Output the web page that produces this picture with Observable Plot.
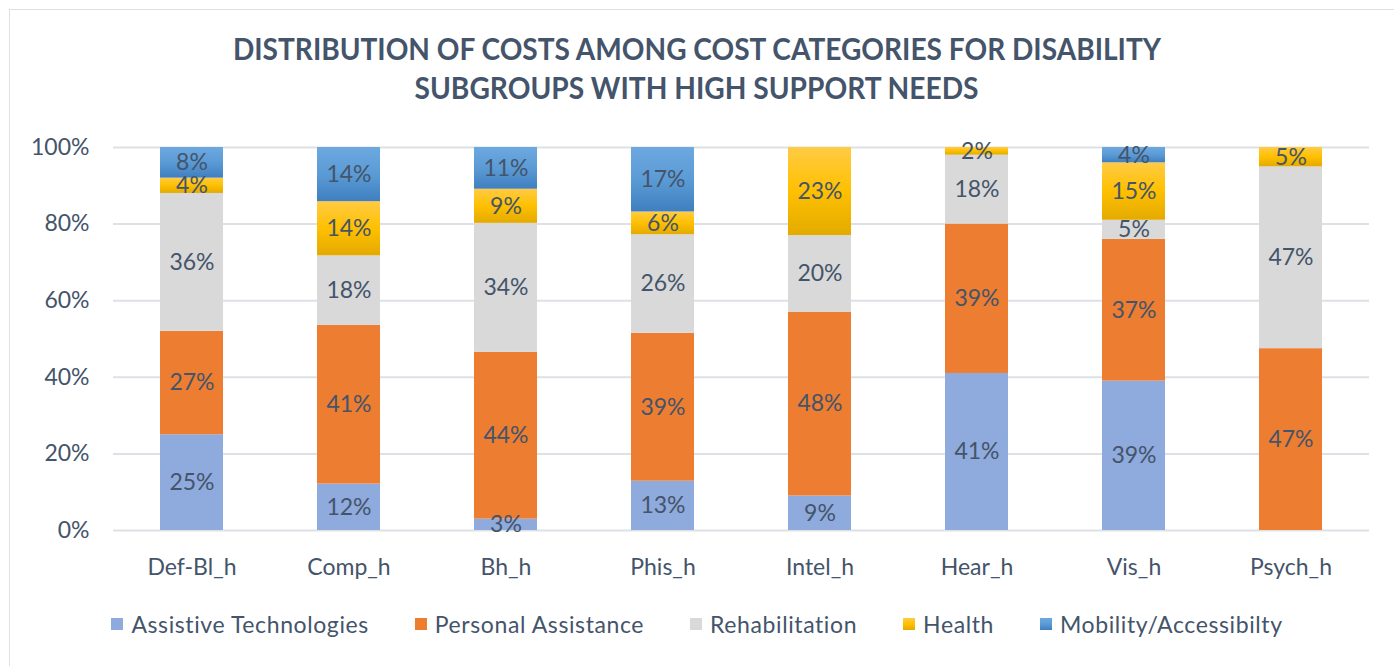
<!DOCTYPE html>
<html>
<head>
<meta charset="utf-8">
<script src="https://cdn.jsdelivr.net/npm/d3@7"></script>
<script src="https://cdn.jsdelivr.net/npm/@observablehq/plot@0.6"></script>
<style>
  html, body { margin: 0; padding: 0; background: #fff; }
  body { width: 1394px; height: 666px; position: relative; overflow: hidden; font-family: Lato, "Open Sans", sans-serif; color: #44546A; }
  #frame { position: absolute; left: 9px; top: 9px; width: 1400px; height: 700px; border: 1.5px solid #dde1e6; box-sizing: border-box; }
  #title { position: absolute; left: 0; width: 1394px; top: 29px; text-align: center; font-weight: 700; font-size: 30px; line-height: 39px; }
  #title span { display: inline-block; transform-origin: center; white-space: nowrap; }
  #chart { position: absolute; left: 0; top: 110px; }
  #legend { position: absolute; left: 0; width: 1394px; top: 610px; display: flex; justify-content: center; font-size: 23px; letter-spacing: 0.6px; }
  .item { display: flex; align-items: center; margin: 0 23px; }
  .sw { width: 12px; height: 12px; margin-right: 8px; }
</style>
</head>
<body>
<div id="frame"></div>
<div id="title"><span id="t1"></span><br><span id="t2"></span></div>
<div id="chart"></div>
<div id="legend"></div>
<script>
const titleLines = ["DISTRIBUTION OF COSTS AMONG COST CATEGORIES FOR DISABILITY", "SUBGROUPS WITH HIGH SUPPORT NEEDS"];
const categories = ["Def-Bl_h", "Comp_h", "Bh_h", "Phis_h", "Intel_h", "Hear_h", "Vis_h", "Psych_h"];
const seriesNames = ["Assistive Technologies", "Personal Assistance", "Rehabilitation", "Health", "Mobility/Accessibilty"];
const assistive = [25, 12, 3, 13, 9, 41, 39, 0];
const personal = [27, 41, 44, 39, 48, 39, 37, 47];
const rehabilitation = [36, 18, 34, 26, 20, 18, 5, 47];
const health = [4, 14, 9, 6, 23, 2, 15, 5];
const mobility = [8, 14, 11, 17, 0, 0, 4, 0];
const yTicks = [0, 0.2, 0.4, 0.6, 0.8, 1];

const seriesValues = [assistive, personal, rehabilitation, health, mobility];
const fills = ["#8FAADC", "#ED7D31", "#D9D9D9", "url(#gHealth)", "url(#gMob)"];
const swatches = ["#8FAADC", "#ED7D31", "#D9D9D9", "linear-gradient(#FFCB45,#FFC000,#E3AA00)", "linear-gradient(#6DA8E0,#5B9BD5,#3F7FC0)"];

const rows = [];
categories.forEach((c, i) => {
  seriesNames.forEach((s, j) => rows.push({category: c, series: s, value: seriesValues[j][i]}));
});

document.getElementById("t1").textContent = titleLines[0];
document.getElementById("t2").textContent = titleLines[1];

const chart = Plot.plot({
  width: 1394,
  height: 480,
  marginLeft: 113,
  marginRight: 25,
  marginTop: 37,
  marginBottom: 60,
  style: {fontFamily: "Lato, 'Open Sans', sans-serif", fontSize: "23px", color: "#44546A", background: "transparent"},
  x: {domain: categories, paddingInner: 0.6, paddingOuter: 0.3, label: null, tickSize: 0, tickPadding: 28},
  y: {domain: [0, 1], ticks: yTicks, tickFormat: d3.format(".0%"), label: null, tickSize: 0, tickPadding: 24},
  color: {type: "ordinal", domain: seriesNames, range: fills},
  marks: [
    Plot.ruleY(yTicks, {stroke: "#dde1e6", strokeWidth: 2}),
    Plot.barY(rows, Plot.stackY({offset: "normalize", x: "category", y: "value", fill: "series"})),
    Plot.text(rows, Plot.stackY({
      offset: "normalize", x: "category", y: "value", z: "series",
      text: d => d.value > 0 ? d.value + "%" : "",
      fill: "#44546A", fontSize: 23
    }))
  ]
});

const ns = "http://www.w3.org/2000/svg";
const defs = document.createElementNS(ns, "defs");
function grad(id, stops) {
  const g = document.createElementNS(ns, "linearGradient");
  g.setAttribute("id", id);
  g.setAttribute("x1", "0"); g.setAttribute("y1", "0");
  g.setAttribute("x2", "0"); g.setAttribute("y2", "1");
  stops.forEach(([o, c]) => {
    const s = document.createElementNS(ns, "stop");
    s.setAttribute("offset", o); s.setAttribute("stop-color", c);
    g.appendChild(s);
  });
  defs.appendChild(g);
}
grad("gHealth", [["0", "#FFCB45"], ["0.5", "#FFC000"], ["1", "#E3AA00"]]);
grad("gMob", [["0", "#6DA8E0"], ["0.5", "#5B9BD5"], ["1", "#3F7FC0"]]);
chart.insertBefore(defs, chart.firstChild);
document.getElementById("chart").appendChild(chart);

const legend = document.getElementById("legend");
seriesNames.forEach((s, j) => {
  const it = document.createElement("div");
  it.className = "item";
  const sw = document.createElement("div");
  sw.className = "sw";
  sw.style.background = swatches[j];
  const lb = document.createElement("span");
  lb.textContent = s;
  it.appendChild(sw); it.appendChild(lb);
  legend.appendChild(it);
});

// fit title widths to the reference
[["t1", 928], ["t2", 564]].forEach(([id, w]) => {
  const el = document.getElementById(id);
  const cur = el.getBoundingClientRect().width;
  el.style.transform = `scaleX(${w / cur})`;
});
</script>
</body>
</html>
